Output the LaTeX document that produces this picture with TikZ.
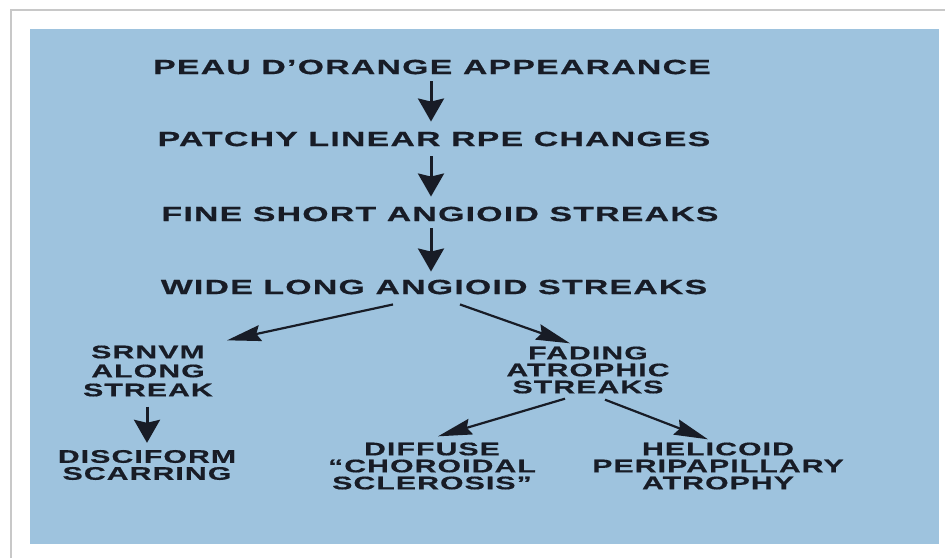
\documentclass[tikz,border=0pt]{standalone}
\usepackage{fontspec}
\usetikzlibrary{arrows.meta}
\newfontfamily\labfont[FakeStretch=1.65,LetterSpace=6,FakeBold=0.6]{Liberation Sans}
\definecolor{bgblue}{RGB}{158,195,222}
\definecolor{txt}{RGB}{24,28,38}
\definecolor{framegray}{RGB}{200,200,200}
\begin{document}
\begin{tikzpicture}[x=1pt,y=-1pt,
  big/.style={font=\fontsize{20.5}{22}\labfont\bfseries\selectfont, text=txt, inner sep=0pt},
  sml/.style={font=\fontsize{18.3}{17}\labfont\bfseries\selectfont, text=txt, inner sep=0pt, align=center},
  smlw/.style={font=\fontsize{18.3}{19}\labfont\bfseries\selectfont, text=txt, inner sep=0pt, align=center},
  varr/.style={draw=txt, line width=3pt, -{Stealth[length=23pt,width=26pt,inset=3pt]}},
  darr/.style={draw=txt, line width=2.2pt, -{Stealth[length=34pt,width=16pt,inset=4pt]}}]
\useasboundingbox (0,0) rectangle (945,558);
\fill[white] (0,0) rectangle (945,558);
\draw[framegray, line width=1.3pt] (11,558) -- (11,10) -- (945,10);
\fill[bgblue] (30,29) rectangle (939,544);
% titles
\node[big] (t1) at (432,67) {PEAU D’ORANGE APPEARANCE};
\node[big] (t2) at (434,139) {PATCHY LINEAR RPE CHANGES};
\node[big] (t3) at (440,214) {FINE SHORT ANGIOID STREAKS};
\node[big] (t4) at (434,287) {WIDE LONG ANGIOID STREAKS};
% lower labels
\node[smlw] (srn) at (148,371) {SRNVM\\ALONG\\STREAK};
\node[sml] (fad) at (588,370) {FADING\\ATROPHIC\\STREAKS};
\node[sml] (dis) at (147,465) {DISCIFORM\\SCARRING};
\node[sml] (dif) at (432,466) {DIFFUSE\\“CHOROIDAL\\SCLEROSIS”};
\node[sml] (hel) at (718,466) {HELICOID\\PERIPAPILLARY\\ATROPHY};
% vertical arrows
\draw[varr] ([shift={(-1,7)}]t1.south) -- ([shift={(-1,-10)}]t1.south |- t2.north);
\draw[varr] ([shift={(-3,10)}]t2.south) -- ([shift={(-3,-10)}]t2.south |- t3.north);
\draw[varr] ([shift={(-9,7)}]t3.south) -- ([shift={(-9,-8)}]t3.south |- t4.north);
\draw[varr] ([shift={(-1,10)}]srn.south) -- ([shift={(0,-7)}]dis.north);
% diagonal arrows
\draw[darr] ([shift={(-41,10)}]t4.south) -- ([shift={(79,-5)}]srn.north);
\draw[darr] ([shift={(26,10)}]t4.south) -- ([shift={(-18,-3)}]fad.north);
\draw[darr] ([shift={(-23,5)}]fad.south) -- ([shift={(6,-6)}]dif.north);
\draw[darr] ([shift={(17,6)}]fad.south) -- ([shift={(-10,-3)}]hel.north);
\end{tikzpicture}
\end{document}
